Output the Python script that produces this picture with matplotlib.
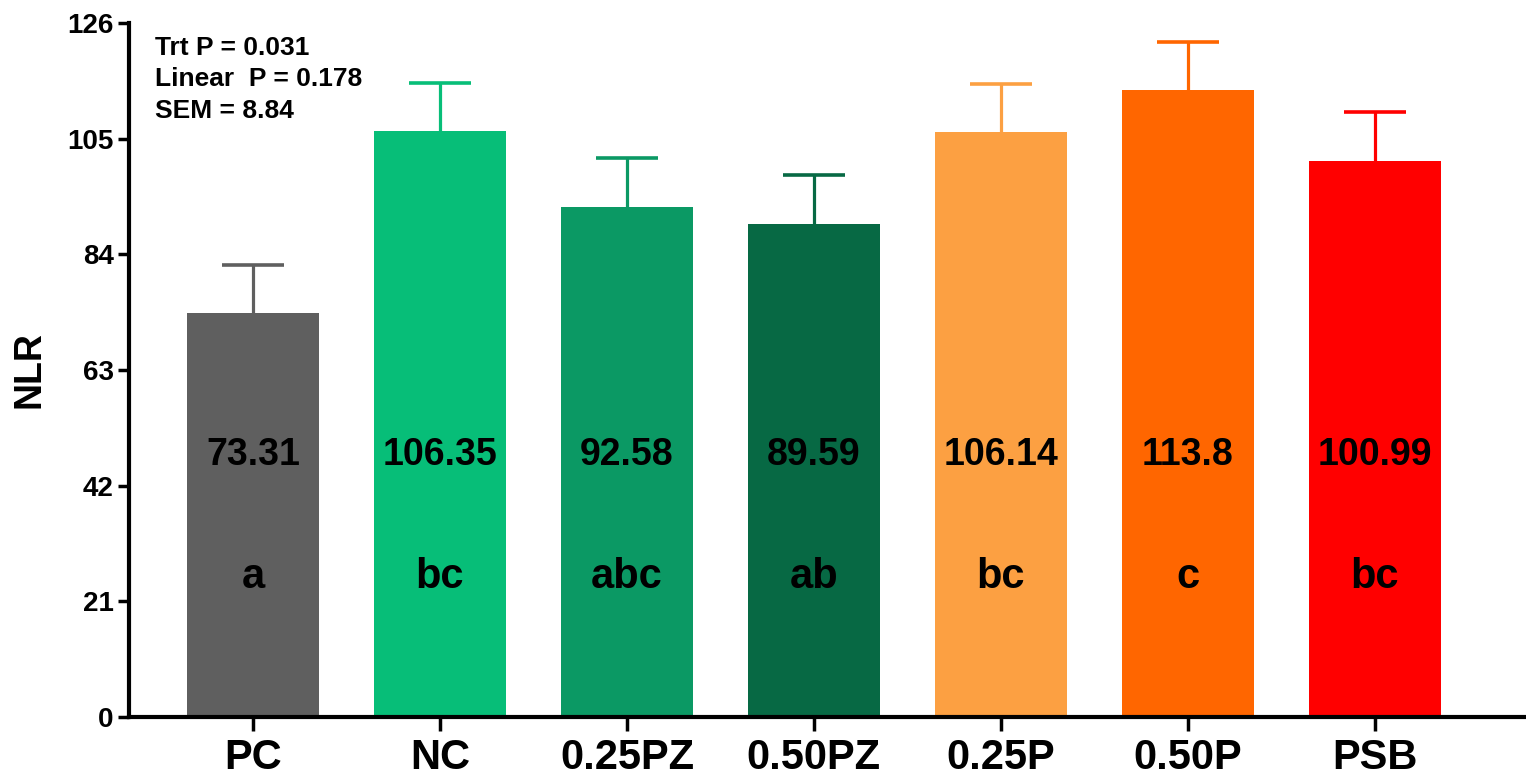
import numpy as np
import matplotlib.pyplot as plt

plt.rcParams['font.family'] = ['Liberation Sans', 'DejaVu Sans']
plt.rcParams['font.weight'] = 'bold'

# data
groups = ['PC', 'NC', '0.25PZ', '0.50PZ', '0.25P', '0.50P', 'PSB']
nlr = [73.31, 106.35, 92.58, 89.59, 106.14, 113.8, 100.99]
sem = [8.84, 8.84, 8.84, 8.84, 8.84, 8.84, 8.84]
letters = ['a', 'bc', 'abc', 'ab', 'bc', 'c', 'bc']
value_text = ['73.31', '106.35', '92.58', '89.59', '106.14', '113.8', '100.99']
colors = ['#5f5f5f', '#07be78', '#0b9964', '#076944', '#fca042', '#ff6600', '#ff0000']
yticks = [0, 21, 42, 63, 84, 105, 126]
stats = ['Trt P = 0.031', 'Linear  P = 0.178', 'SEM = 8.84']

fig = plt.figure(figsize=(15.26, 7.75), dpi=100)
ax = fig.add_axes([129 / 1526, 58 / 775, 1397 / 1526, 694 / 775])

x = np.arange(len(groups))
ax.bar(x, nlr, width=0.706, color=colors, zorder=2)
for i in range(len(groups)):
    eb = ax.errorbar(x[i], nlr[i], yerr=[[0], [sem[i]]], fmt='none', ecolor=colors[i],
                     elinewidth=2.3, capsize=22, capthick=2.6, zorder=1)
    # only the upper cap is shown
    eb[1][0].set_visible(False)
    ax.text(x[i], 47.5, value_text[i], ha='center', va='center', fontsize=27,
            fontweight='bold', zorder=3)
    ax.text(x[i], 25.5, letters[i], ha='center', va='center', fontsize=30,
            fontweight='bold', zorder=3)

ax.set_xlim(-0.664, 6.81)
ax.set_ylim(0, 126)
ax.set_yticks(yticks)
ax.set_xticks(x)
ax.set_xticklabels(groups, fontsize=30, fontweight='bold')
ax.set_yticklabels([str(t) for t in yticks], fontsize=20, fontweight='bold')
ax.set_ylabel('NLR', fontsize=27, fontweight='bold', labelpad=14)

ax.spines['top'].set_visible(False)
ax.spines['right'].set_visible(False)
ax.spines['left'].set_linewidth(3)
ax.spines['bottom'].set_linewidth(3)
ax.spines['left'].set_zorder(4)
ax.spines['bottom'].set_zorder(4)
ax.tick_params(axis='y', length=8, width=2.5, pad=3)
ax.tick_params(axis='x', length=10, width=2.5, pad=5)

for k, s in enumerate(stats):
    fig.text(155 / 1526, 1 - (36 + k * 31.5) / 775, s, ha='left', va='top',
             fontsize=19, fontweight='bold')

fig.savefig('out.png', dpi=100)
